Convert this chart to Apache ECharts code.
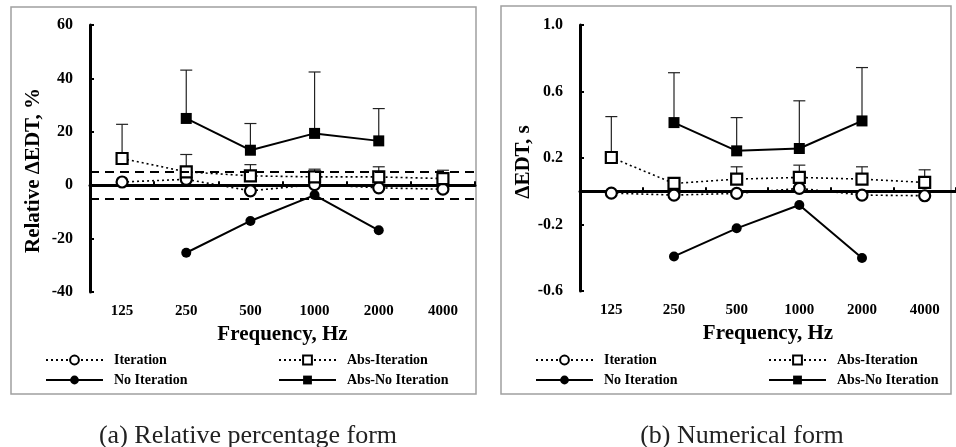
<!DOCTYPE html>
<html>
<head>
<meta charset="utf-8">
<script src="https://cdn.jsdelivr.net/npm/echarts@6/dist/echarts.min.js"></script>
<style>html,body{margin:0;padding:0;background:#fff;}#c{width:956px;height:447px;}</style>
</head>
<body>
<div id="c"></div>
<script>
// ---- data ----
const categories = ['125', '250', '500', '1000', '2000', '4000'];

// (a) Relative percentage form, %
const iterA        = [1.2, 2.2, -2.1, 0.2, -1.0, -1.5];
const absIterA     = [10.0, 5.0, 3.5, 3.1, 3.1, 2.5];
const absIterAUp   = [22.8, 11.5, 7.7, 6.0, 6.9, 5.6];
const noIterA      = [null, -25.3, -13.4, -3.7, -16.9, null];
const absNoIterA   = [null, 25.0, 13.1, 19.4, 16.6, null];
const absNoIterAUp = [null, 43.1, 23.1, 42.4, 28.7, null];
const toleranceA   = [5, -5];

// (b) Numerical form, s
const iterB        = [-0.011, -0.023, -0.013, 0.017, -0.023, -0.027];
const absIterB     = [0.203, 0.047, 0.073, 0.083, 0.073, 0.053];
const absIterBUp   = [0.449, null, 0.147, 0.157, 0.147, 0.129];
const noIterB      = [null, -0.392, -0.223, -0.083, -0.401, null];
const absNoIterB   = [null, 0.413, 0.243, 0.257, 0.423, null];
const absNoIterBUp = [null, 0.713, 0.443, 0.544, 0.744, null];

const names = ['Iteration', 'Abs-Iteration', 'No Iteration', 'Abs-No Iteration'];

// ---- styling ----
const SERIF = '"Liberation Serif", "Times New Roman", serif';
const boldText = {fontFamily: SERIF, fontWeight: 'bold', color: '#000'};

function errData(vals, ups) {
  const out = [];
  vals.forEach((v, i) => { if (v != null && ups[i] != null) out.push([i, v, ups[i]]); });
  return out;
}
function errSeries(vals, ups, xi, yi) {
  return {
    type: 'custom', xAxisIndex: xi, yAxisIndex: yi, z: 1, silent: true,
    data: errData(vals, ups),
    renderItem: function (params, api) {
      const p0 = api.coord([api.value(0), api.value(1)]);
      const p1 = api.coord([api.value(0), api.value(2)]);
      const st = {stroke: '#222', lineWidth: 1.2};
      return {type: 'group', children: [
        {type: 'line', shape: {x1: p0[0], y1: p0[1], x2: p1[0], y2: p1[1]}, style: st},
        {type: 'line', shape: {x1: p1[0] - 6, y1: p1[1], x2: p1[0] + 6, y2: p1[1]}, style: st}
      ]};
    }
  };
}
function lineSeries(name, data, xi, yi) {
  const dotted = name === 'Iteration' || name === 'Abs-Iteration';
  const open = dotted;
  const rect = name.indexOf('Abs') === 0;
  return {
    name: name, type: 'line', xAxisIndex: xi, yAxisIndex: yi, z: 3,
    data: data,
    symbol: rect ? 'rect' : 'circle',
    symbolSize: rect ? 11 : (open ? 11 : 10),
    lineStyle: {color: '#000', width: dotted ? 1.6 : 2, type: dotted ? [2, 3] : 'solid'},
    itemStyle: {color: open ? '#fff' : '#000', borderColor: '#000', borderWidth: open ? 2.2 : 0},
    emphasis: {disabled: true}
  };
}

function xAxes(gi) {
  return [
    { // zero line with ticks
      type: 'category', gridIndex: gi, data: categories, position: 'bottom',
      axisLine: {show: true, onZero: true, lineStyle: {color: '#000', width: 3}},
      axisTick: {show: true, inside: true, length: 4, lineStyle: {color: '#000', width: 2}},
      axisLabel: {show: false}, splitLine: {show: false}
    },
    { // labels at bottom
      type: 'category', gridIndex: gi, data: categories, position: 'bottom',
      axisLine: {show: false, onZero: false}, axisTick: {show: false},
      axisLabel: Object.assign({fontSize: 15, margin: 12}, boldText),
      name: 'Frequency, Hz', nameLocation: 'middle', nameGap: 32,
      nameTextStyle: Object.assign({fontSize: 21}, boldText),
      splitLine: {show: false}
    }
  ];
}
function yAxis(gi, min, max, interval, name, fmt, pad) {
  return {
    type: 'value', gridIndex: gi, min: min, max: max, interval: interval,
    axisLine: {show: true, lineStyle: {color: '#000', width: 3}},
    axisTick: {show: true, inside: true, length: 4, lineStyle: {color: '#000', width: 2}},
    axisLabel: Object.assign({fontSize: 16, margin: 17, formatter: fmt}, boldText),
    splitLine: {show: false},
    name: name, nameLocation: 'middle', nameGap: 46,
    nameTextStyle: Object.assign({fontSize: 21, padding: [0, pad, 0, 0]}, boldText)
  };
}

function legends(offsetX) {
  const pos = [[45, 353], [278, 353], [45, 373], [278, 373]];
  return names.map((n, i) => ({
    data: [n], left: pos[i][0] + offsetX, top: pos[i][1], padding: 0,
    itemWidth: 57, itemHeight: 11, selectedMode: false,
    textStyle: Object.assign({fontSize: 14, padding: [0, 0, 0, 6]}, boldText)
  }));
}

const option = {
  animation: false,
  backgroundColor: '#fff',
  grid: [
    {left: 90, top: 25, width: 385, height: 267},
    {left: 580, top: 25, width: 385, height: 266}
  ],
  xAxis: xAxes(0).concat(xAxes(1)),
  yAxis: [
    yAxis(0, -40, 60, 20, 'Relative \u0394EDT, %', v => String(v), 24),
    yAxis(1, -0.6, 1.0, 0.4, '\u0394EDT, s', v => v.toFixed(1), 8)
  ],
  legend: legends(0).concat(legends(490)),
  title: [
    {text: '(a) Relative percentage form', left: 243, top: 418, textAlign: 'center',
     textStyle: {fontFamily: SERIF, fontWeight: 'normal', fontSize: 26, color: '#222'}},
    {text: '(b) Numerical form', left: 737, top: 418, textAlign: 'center',
     textStyle: {fontFamily: SERIF, fontWeight: 'normal', fontSize: 26, color: '#222'}}
  ],
  graphic: [
    {type: 'rect', shape: {x: 11, y: 7, width: 465, height: 387}, style: {fill: 'none', stroke: '#a0a0a0', lineWidth: 1.5}, z: -1},
    {type: 'rect', shape: {x: 501, y: 6, width: 450, height: 388}, style: {fill: 'none', stroke: '#a0a0a0', lineWidth: 1.5}, z: -1}
  ],
  series: [
    errSeries(absIterA, absIterAUp, 0, 0),
    errSeries(absNoIterA, absNoIterAUp, 0, 0),
    Object.assign(lineSeries('Iteration', iterA, 0, 0), {
      markLine: {silent: true, symbol: 'none', label: {show: false},
        lineStyle: {color: '#000', width: 2, type: [9, 6]},
        data: toleranceA.map(v => ({yAxis: v}))}
    }),
    lineSeries('Abs-Iteration', absIterA, 0, 0),
    lineSeries('No Iteration', noIterA, 0, 0),
    lineSeries('Abs-No Iteration', absNoIterA, 0, 0),

    errSeries(absIterB, absIterBUp, 2, 1),
    errSeries(absNoIterB, absNoIterBUp, 2, 1),
    lineSeries('Iteration', iterB, 2, 1),
    lineSeries('Abs-Iteration', absIterB, 2, 1),
    lineSeries('No Iteration', noIterB, 2, 1),
    lineSeries('Abs-No Iteration', absNoIterB, 2, 1)
  ]
};

const chart = echarts.init(document.getElementById('c'), null, {renderer: 'canvas'});
chart.setOption(option);
</script>
</body>
</html>
